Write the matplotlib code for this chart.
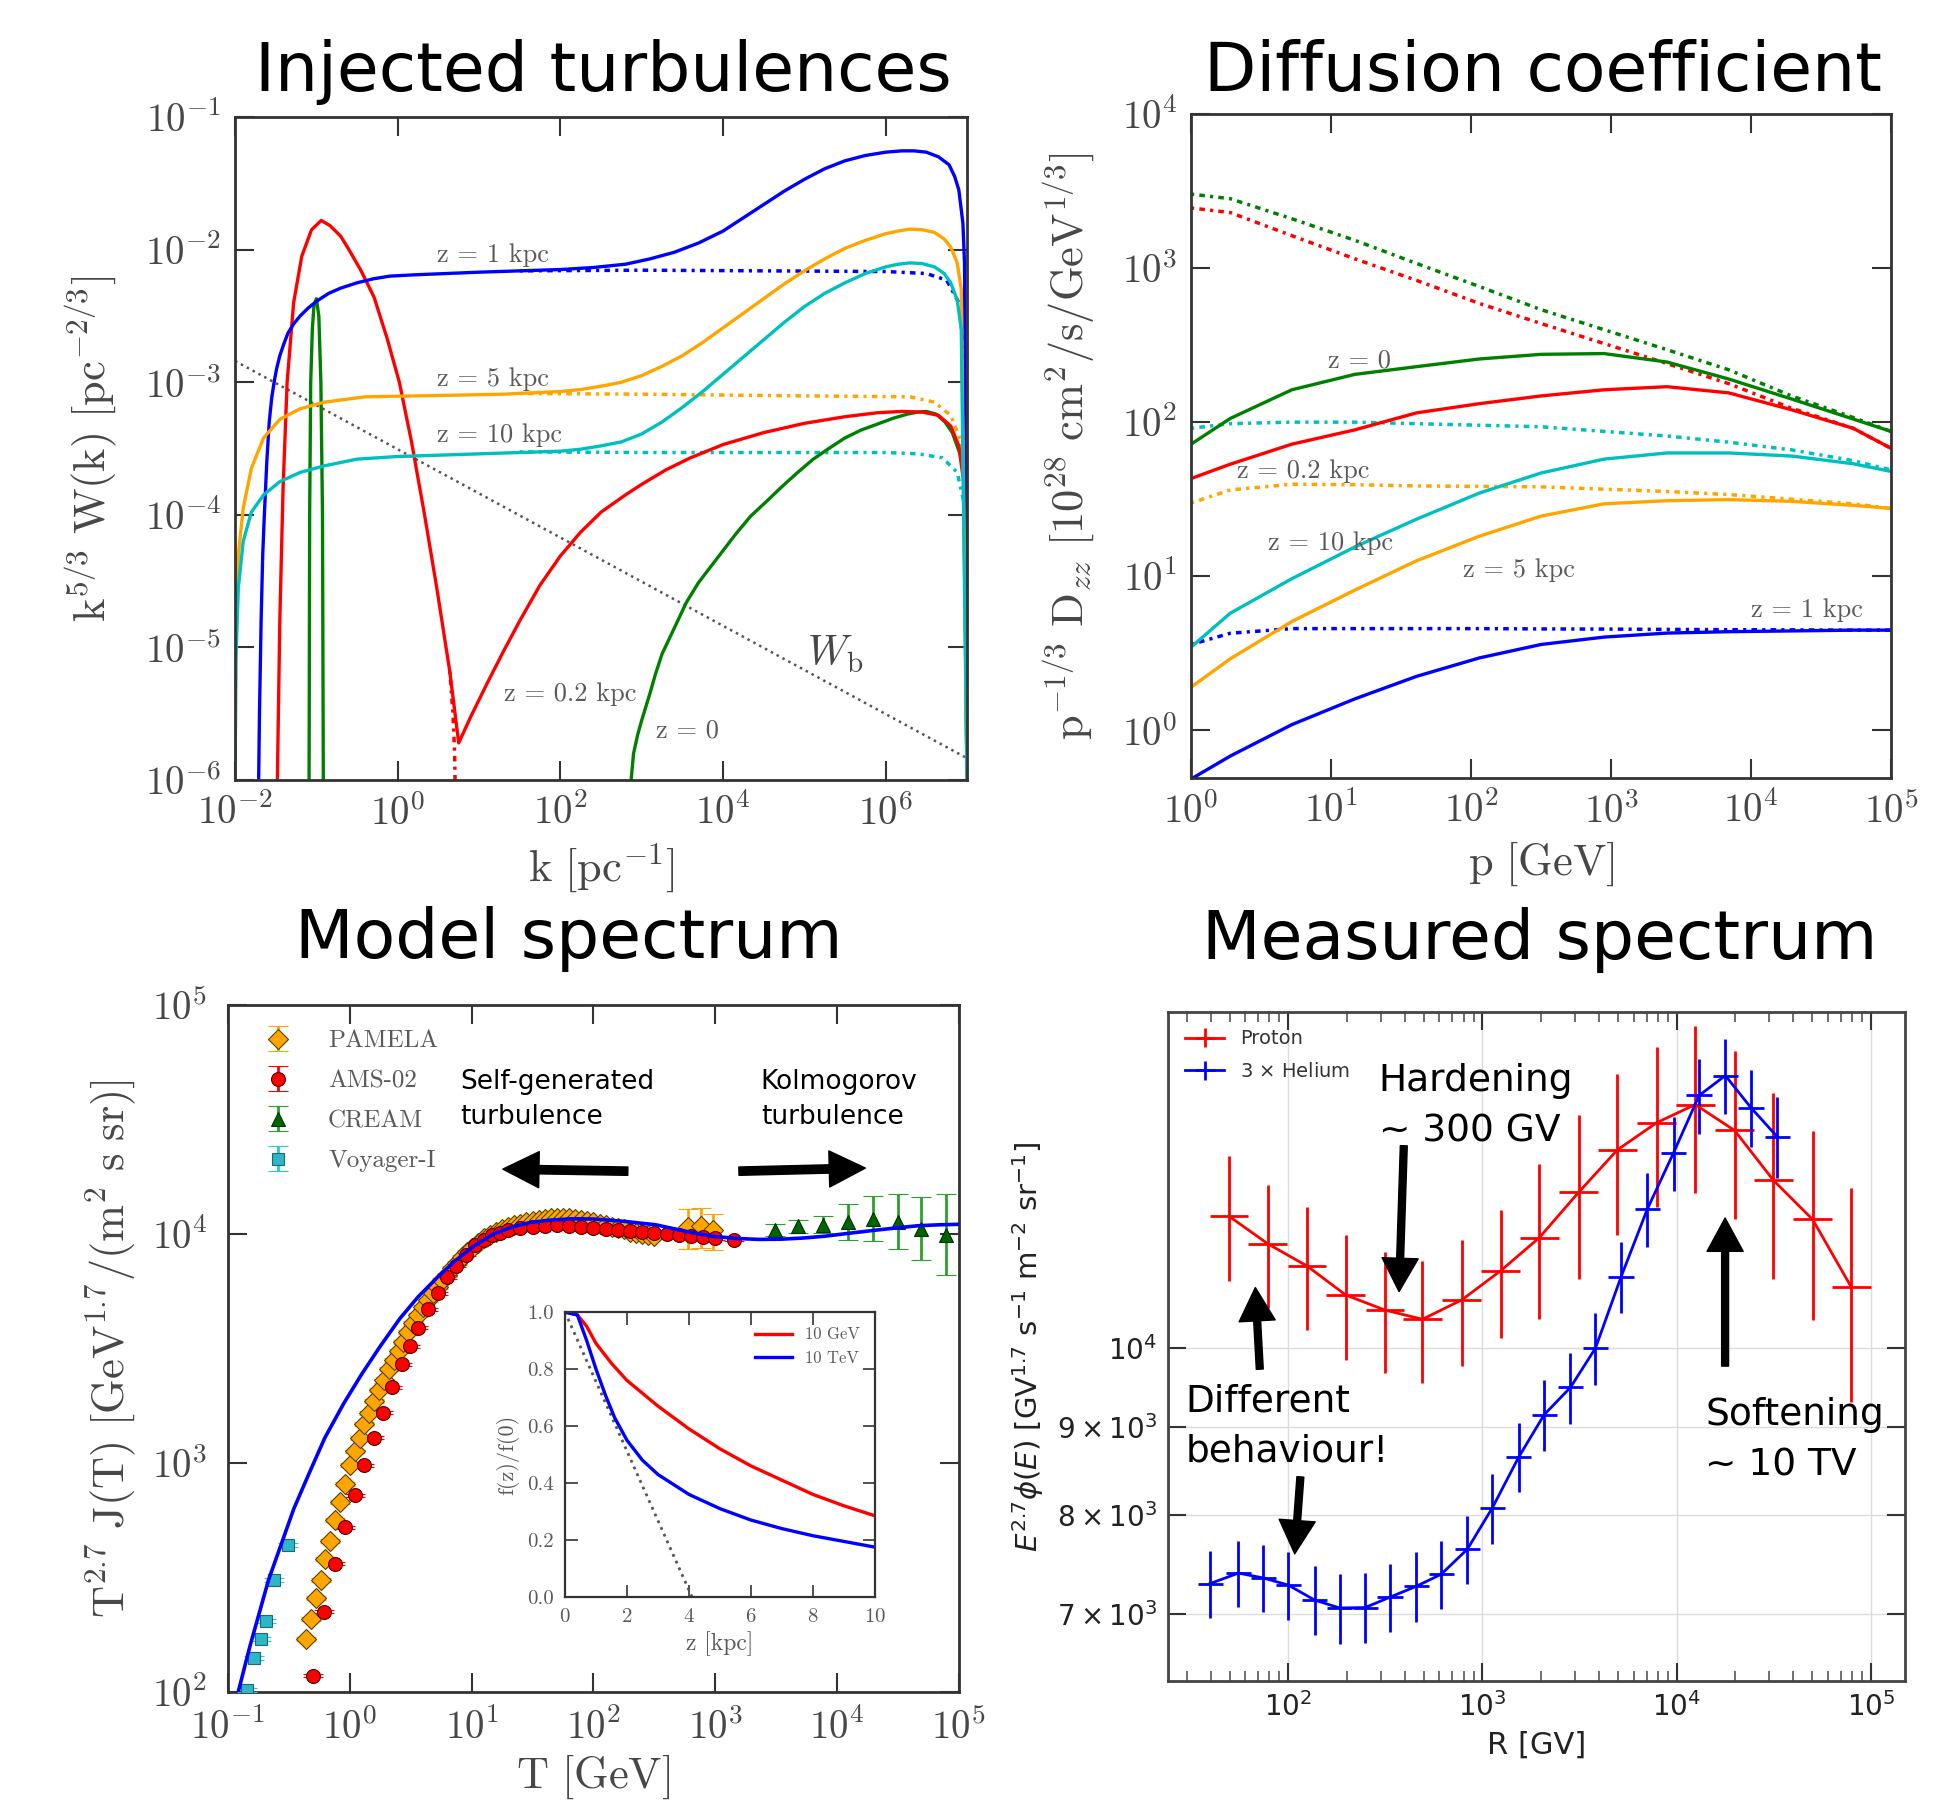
import numpy as np
import matplotlib
matplotlib.use('Agg')
import matplotlib.pyplot as plt
from matplotlib.ticker import (FixedLocator, FixedFormatter, NullLocator,
                               NullFormatter, LogLocator, LogFormatterSciNotation)

plt.rcParams['font.family'] = 'serif'
plt.rcParams['font.serif'] = ['cmr10', 'DejaVu Serif']
plt.rcParams['mathtext.fontset'] = 'cm'
plt.rcParams['axes.formatter.use_mathtext'] = True

# ---------------- panel 1: injected turbulences (log10 values)
inj_k_ticks = [1e-2, 1e0, 1e2, 1e4, 1e6]
inj_w_ticks = [1e-6, 1e-5, 1e-4, 1e-3, 1e-2, 1e-1]

inj_z1_logk = [-1.71, -1.7, -1.68, -1.66, -1.64, -1.61, -1.58, -1.55, -1.52, -1.49, -1.45, -1.4,
               -1.35, -1.28, -1.2, -1.1, -1.0, -0.85, -0.7, -0.5, -0.3, -0.1, 0.2, 1.0,
               2.0, 2.4, 2.8, 3.1, 3.4, 3.7, 4.0, 4.25, 4.5, 4.75, 5.0, 5.25, 5.5, 5.75,
               6.0, 6.2, 6.35, 6.5, 6.65, 6.78, 6.85, 6.9, 6.95, 6.97, 7.0]
inj_z1_logw = [-6.0, -5.5, -4.8, -4.3, -4.0, -3.6, -3.3, -3.12, -3.0, -2.9, -2.8, -2.71,
               -2.63, -2.56, -2.5, -2.44, -2.39, -2.33, -2.29, -2.25, -2.22, -2.2, -2.19, -2.17,
               -2.15, -2.135, -2.11, -2.07, -2.02, -1.95, -1.86, -1.76, -1.66, -1.56, -1.47, -1.39,
               -1.33, -1.29, -1.265, -1.255, -1.255, -1.265, -1.3, -1.36, -1.45, -1.55, -1.8, -2.1, -6.0]
inj_z1_flat_logk = [1.5, 3.0, 4.5, 6.0, 6.5, 6.75, 6.9, 6.97, 7.0]
inj_z1_flat_logw = [-2.16, -2.155, -2.16, -2.165, -2.18, -2.23, -2.4, -2.8, -4.0]

inj_z5_logk = [-2.0, -1.99, -1.96, -1.9, -1.8, -1.65, -1.45, -1.2, -0.9, -0.4, 0.5, 1.3, 2.0,
               2.25, 2.5, 2.75, 3.0, 3.25, 3.5, 3.75, 4.0, 4.25, 4.5, 4.75, 5.0, 5.25, 5.5,
               5.75, 6.0, 6.15, 6.3, 6.45, 6.6, 6.72, 6.8, 6.88, 6.93, 7.0]
inj_z5_logw = [-6.0, -4.9, -4.3, -3.95, -3.65, -3.42, -3.28, -3.2, -3.15, -3.11, -3.1, -3.09, -3.07,
               -3.055, -3.03, -3.0, -2.95, -2.88, -2.8, -2.7, -2.59, -2.48, -2.37, -2.26, -2.16, -2.07,
               -1.99, -1.93, -1.88, -1.86, -1.845, -1.85, -1.87, -1.92, -1.98, -2.1, -2.3, -6.0]
inj_z5_flat_logk = [1.5, 3.0, 4.5, 6.3, 6.6, 6.8, 6.93, 7.0]
inj_z5_flat_logw = [-3.085, -3.09, -3.1, -3.11, -3.15, -3.25, -3.45, -4.0]

inj_z10_logk = [-2.0, -1.99, -1.96, -1.9, -1.8, -1.65, -1.45, -1.2, -0.9, -0.5, 0.0, 1.0, 2.0,
                2.25, 2.5, 2.75, 3.0, 3.25, 3.5, 3.75, 4.0, 4.25, 4.5, 4.75, 5.0, 5.25, 5.5,
                5.75, 6.0, 6.15, 6.3, 6.45, 6.6, 6.72, 6.8, 6.88, 6.93, 7.0]
inj_z10_logw = [-6.0, -5.1, -4.55, -4.2, -3.98, -3.85, -3.75, -3.68, -3.63, -3.58, -3.56, -3.54, -3.52,
                -3.505, -3.48, -3.45, -3.39, -3.3, -3.19, -3.07, -2.94, -2.81, -2.68, -2.55, -2.43, -2.33,
                -2.25, -2.18, -2.13, -2.11, -2.1, -2.105, -2.13, -2.18, -2.25, -2.38, -2.6, -6.0]
inj_z10_flat_logk = [1.5, 3.0, 4.5, 6.0, 6.4, 6.7, 6.88, 6.96, 7.0]
inj_z10_flat_logw = [-3.525, -3.53, -3.53, -3.53, -3.54, -3.57, -3.68, -3.9, -4.5]

inj_z02_logk = [-1.48, -1.45, -1.41, -1.36, -1.28, -1.18, -1.06, -0.94, -0.83, -0.7,
                -0.6, -0.45, -0.29, -0.13, 0.02, 0.17, 0.33, 0.48, 0.64, 0.75,
                0.9, 1.1, 1.3, 1.5, 1.75, 2.0, 2.25, 2.5, 2.8, 3.0,
                3.3, 3.6, 4.0, 4.5, 5.0, 5.5, 5.9, 6.2, 6.45, 6.65,
                6.8, 6.9, 6.97, 7.0]
inj_z02_logw = [-6.0, -4.8, -3.8, -3.0, -2.4, -2.05, -1.85, -1.78, -1.82, -1.9,
                -2.0, -2.16, -2.36, -2.67, -3.0, -3.45, -4.0, -4.55, -5.18, -5.72,
                -5.52, -5.27, -5.03, -4.8, -4.53, -4.31, -4.13, -3.98, -3.85, -3.77,
                -3.66, -3.57, -3.47, -3.38, -3.31, -3.26, -3.23, -3.22, -3.225, -3.25,
                -3.33, -3.48, -3.8, -6.0]
inj_z02_tail_logk = [0.64, 0.68, 0.70, 0.705]
inj_z02_tail_logw = [-5.18, -5.5, -5.8, -6.0]

inj_z0_spike_logk = [-1.09, -1.083, -1.07, -1.05, -1.03, -1.0, -0.97, -0.945, -0.925, -0.915]
inj_z0_spike_logw = [-6.0, -4.0, -3.0, -2.6, -2.42, -2.37, -2.5, -3.0, -4.0, -6.0]
inj_z0_logk = [2.87, 2.9, 2.95, 3.0, 3.05, 3.1, 3.17, 3.25, 3.35, 3.45, 3.55, 3.7, 3.85, 3.95,
               4.15, 4.34, 4.55, 4.72, 4.9, 5.11, 5.3, 5.5, 5.7, 5.88, 6.1, 6.27, 6.4, 6.5,
               6.62, 6.73, 6.82, 6.92, 6.96, 7.0]
inj_z0_logw = [-6.0, -5.8, -5.66, -5.55, -5.45, -5.35, -5.2, -5.05, -4.92, -4.79, -4.66, -4.51,
               -4.39, -4.31, -4.15, -4.01, -3.89, -3.79, -3.69, -3.58, -3.5, -3.42, -3.36, -3.32,
               -3.27, -3.24, -3.225, -3.22, -3.24, -3.3, -3.38, -3.55, -3.7, -6.0]

inj_wb_logk = [-2.0, 7.0]
inj_wb_logw = [-2.84, -5.835]

# ---------------- panel 2: diffusion coefficient (log10 values)
dif_p_ticks = [1e0, 1e1, 1e2, 1e3, 1e4, 1e5]
dif_d_ticks = [1e0, 1e1, 1e2, 1e3, 1e4]
dif_logp = [0.0, 0.28, 0.72, 1.17, 1.61, 2.06, 2.5, 2.95, 3.4, 3.84, 4.29, 4.73, 5.0]

dif_z0_logd = [1.857, 2.024, 2.21, 2.31, 2.36, 2.41, 2.44, 2.445, 2.39, 2.28, 2.15, 2.02, 1.94]
dif_z0_flat_logd = [3.48, 3.45, 3.32, 3.18, 3.03, 2.88, 2.73, 2.60, 2.47, 2.34, 2.17, 2.03, 1.94]
dif_z02_logd = [1.634, 1.727, 1.857, 1.95, 2.06, 2.12, 2.17, 2.21, 2.23, 2.19, 2.08, 1.96, 1.83]
dif_z02_flat_logd = [3.39, 3.36, 3.21, 3.06, 2.92, 2.77, 2.64, 2.51, 2.38, 2.25, 2.09, 1.96, 1.83]
dif_z10_logd = [0.54, 0.76, 0.984, 1.19, 1.37, 1.54, 1.67, 1.76, 1.80, 1.80, 1.78, 1.73, 1.68]
dif_z10_flat_logd = [1.96, 1.99, 2.0, 2.0, 1.99, 1.98, 1.97, 1.94, 1.91, 1.87, 1.82, 1.75, 1.69]
dif_z5_logd = [0.28, 0.464, 0.706, 0.91, 1.10, 1.26, 1.39, 1.47, 1.49, 1.497, 1.486, 1.46, 1.44]
dif_z5_flat_logd = [1.475, 1.56, 1.597, 1.594, 1.586, 1.583, 1.58, 1.565, 1.55, 1.53, 1.50, 1.47, 1.44]
dif_z1_logd = [-0.316, -0.167, 0.037, 0.204, 0.35, 0.47, 0.557, 0.605, 0.631, 0.64, 0.645, 0.65, 0.65]
dif_z1_flat_logd = [0.557, 0.63, 0.66, 0.66, 0.66, 0.66, 0.658, 0.657, 0.655, 0.653, 0.652, 0.65, 0.65]

# ---------------- panel 3: model spectrum
spec_t_ticks = [1e-1, 1e0, 1e1, 1e2, 1e3, 1e4, 1e5]
spec_j_ticks = [1e2, 1e3, 1e4, 1e5]
model_logt = [-0.95, -0.82, -0.667, -0.56, -0.46, -0.33, -0.205, -0.05, 0.10, 0.25, 0.41, 0.56,
              0.718, 0.87, 1.026, 1.18, 1.33, 1.48, 1.64, 1.82, 2.0, 2.25, 2.51, 2.77, 2.97,
              3.18, 3.36, 3.54, 3.72, 3.90, 4.1, 4.31, 4.5, 4.67, 4.85, 5.0]
model_logj = [1.93, 2.20, 2.49, 2.65, 2.80, 2.96, 3.11, 3.26, 3.39, 3.51, 3.63, 3.725,
              3.81, 3.885, 3.95, 4.0, 4.03, 4.05, 4.06, 4.066, 4.065, 4.055, 4.04, 4.01, 3.99,
              3.98, 3.976, 3.977, 3.982, 3.99, 4.003, 4.016, 4.027, 4.036, 4.04, 4.042]

pamela_logt = [-0.36, -0.32, -0.28, -0.24, -0.20, -0.16, -0.12, -0.08, -0.04, 0.00,
               0.04, 0.08, 0.12, 0.16, 0.20, 0.24, 0.28, 0.32, 0.36, 0.40,
               0.44, 0.48, 0.52, 0.56, 0.60, 0.64, 0.68, 0.72, 0.76, 0.80,
               0.84, 0.88, 0.92, 0.96, 1.00, 1.05, 1.10, 1.15, 1.20, 1.25,
               1.30, 1.35, 1.40, 1.45, 1.50, 1.55, 1.60, 1.65, 1.70, 1.75,
               1.80, 1.85, 1.90, 1.95, 2.00, 2.05, 2.10, 2.15, 2.20, 2.25,
               2.30, 2.35, 2.40, 2.45, 2.50, 2.78, 2.88, 2.98]
pamela_logj = [2.23, 2.32, 2.41, 2.49, 2.58, 2.66, 2.75, 2.83, 2.91, 2.99,
               3.05, 3.11, 3.17, 3.22, 3.27, 3.32, 3.36, 3.41, 3.45, 3.49,
               3.53, 3.57, 3.61, 3.645, 3.68, 3.71, 3.74, 3.77, 3.80, 3.82,
               3.85, 3.875, 3.90, 3.92, 3.94, 3.96, 3.98, 3.995, 4.01, 4.02,
               4.03, 4.04, 4.045, 4.05, 4.055, 4.06, 4.065, 4.07, 4.07, 4.07,
               4.07, 4.065, 4.06, 4.055, 4.05, 4.045, 4.04, 4.03, 4.025, 4.02,
               4.01, 4.005, 4.0, 3.995, 3.99, 4.03, 4.035, 4.015]
pamela_rel_err = [0.02] * 65 + [0.2, 0.2, 0.18]

ams_logt = [-0.30, -0.21, -0.12, -0.04, 0.04, 0.12, 0.20, 0.27, 0.35, 0.43,
            0.49, 0.56, 0.64, 0.72, 0.80, 0.87, 0.95, 1.03, 1.10, 1.17,
            1.23, 1.30, 1.40, 1.50, 1.60, 1.70, 1.80, 1.90, 2.00, 2.10,
            2.20, 2.30, 2.40, 2.50, 2.60, 2.70, 2.80, 2.90, 3.00, 3.15]
ams_logj = [2.07, 2.35, 2.56, 2.72, 2.86, 2.99, 3.11, 3.22, 3.33, 3.43,
            3.51, 3.59, 3.67, 3.74, 3.81, 3.86, 3.91, 3.95, 3.975, 3.995,
            4.005, 4.015, 4.025, 4.032, 4.036, 4.038, 4.036, 4.032, 4.027, 4.022,
            4.017, 4.012, 4.007, 4.003, 4.0, 3.996, 3.99, 3.985, 3.98, 3.974]

cream_t = [3070, 4790, 7710, 12300, 19800, 31600, 49000, 78900]
cream_j = [10370, 10810, 10960, 11320, 11670, 11320, 10470, 9890]
cream_err_lo = [600, 700, 900, 1900, 2400, 2700, 2800, 3300]
cream_err_hi = [650, 750, 1000, 2200, 3000, 3600, 4000, 5000]

voyager_logt = [-0.846, -0.785, -0.733, -0.692, -0.62, -0.51]
voyager_logj = [2.01, 2.147, 2.23, 2.31, 2.49, 2.64]

# inset: f(z)/f(0)
inset_z_ticks = [0, 2, 4, 6, 8, 10]
inset_f_ticks = [0.0, 0.2, 0.4, 0.6, 0.8, 1.0]
gev_z = [0.0, 0.4, 0.7, 1.0, 1.5, 2.0, 3.0, 4.0, 5.0, 6.0, 7.0, 8.0, 9.0, 10.0]
gev_f = [1.0, 0.99, 0.95, 0.89, 0.82, 0.76, 0.67, 0.59, 0.52, 0.46, 0.41, 0.36, 0.32, 0.285]
tev_z = [0.0, 0.4, 0.7, 1.0, 1.3, 1.6, 2.0, 2.5, 3.0, 4.0, 5.0, 6.0, 7.0, 8.0, 9.0, 10.0]
tev_f = [1.0, 0.99, 0.90, 0.80, 0.71, 0.63, 0.55, 0.48, 0.43, 0.36, 0.31, 0.27, 0.24, 0.215, 0.195, 0.175]
free_z = [0.0, 4.1]
free_f = [1.0, 0.0]

# ---------------- panel 4: measured spectrum
meas_r_ticks = [1e2, 1e3, 1e4, 1e5]
meas_phi_ticks = [7000, 8000, 9000, 10000]
meas_phi_labels = [r'$7\times10^{3}$', r'$8\times10^{3}$', r'$9\times10^{3}$', r'$10^{4}$']

proton_r = [49.5, 78.3, 124.9, 197.6, 314.6, 491, 783, 1239, 1963, 3127, 4955, 7890, 12480,
            19900, 31500, 50200, 79430]
proton_phi = [11937, 11505, 11166, 10740, 10525, 10396, 10670, 11093, 11599, 12325, 13048, 13532,
              13866, 13392, 12528, 11885, 10853]
proton_err = [1000, 950, 920, 900, 850, 850, 900, 950, 1200, 1350, 1400, 1450, 1550, 1500, 1550,
              1500, 1550]
proton_bin_dex = 0.1

helium_r = [39.6, 55.4, 74.3, 100, 136.5, 183.6, 248.9, 334, 456, 613, 837, 1125, 1537, 2081,
            2838, 3819, 5176, 7063, 9640, 13060, 17830, 24150, 32960]
helium_phi = [7293, 7396, 7348, 7278, 7134, 7058, 7062, 7161, 7266, 7384, 7638, 8073, 8641, 9148,
              9487, 10000, 11004, 12050, 12995, 14036, 14416, 13808, 13282]
helium_err = [330, 330, 330, 330, 330, 330, 330, 330, 340, 340, 350, 380, 400, 440, 450, 480,
              520, 600, 650, 700, 730, 710, 720]
helium_bin_dex = 0.065

GREY = '#474747'
LABEL_GREY = '#5a5a5a'
DOTS = (0, (0.9, 1.5, 1.6, 1.5))


def pw(a):
    return 10.0 ** np.asarray(a)


def serif_axes(ax, xticks, yticks, labelsize=28, length=14, xpad=10, ypad=10):
    for s in ax.spines.values():
        s.set_linewidth(2)
        s.set_color('#333333')
    ax.xaxis.set_major_locator(FixedLocator(xticks))
    ax.yaxis.set_major_locator(FixedLocator(yticks))
    ax.xaxis.set_minor_locator(NullLocator())
    ax.yaxis.set_minor_locator(NullLocator())
    ax.tick_params(which='both', direction='in', top=True, right=True, length=length,
                   width=1.5, color='#333333', labelsize=labelsize, labelcolor=GREY)
    ax.tick_params(axis='x', pad=xpad)
    ax.tick_params(axis='y', pad=ypad)


def panel_injected(ax):
    ax.set_xscale('log')
    ax.set_yscale('log')
    ax.plot(pw(inj_wb_logk), pw(inj_wb_logw), ':', color='#555555', lw=1.8)
    ax.plot(pw(inj_z1_flat_logk), pw(inj_z1_flat_logw), color='b', lw=2.5, ls=DOTS)
    ax.plot(pw(inj_z5_flat_logk), pw(inj_z5_flat_logw), color='orange', lw=2.5, ls=DOTS)
    ax.plot(pw(inj_z10_flat_logk), pw(inj_z10_flat_logw), color='c', lw=2.5, ls=DOTS)
    ax.plot(pw(inj_z02_tail_logk), pw(inj_z02_tail_logw), color='r', lw=2.5, ls=DOTS)
    ax.plot(pw(inj_z0_spike_logk), pw(inj_z0_spike_logw), color='g', lw=2.4)
    ax.plot(pw(inj_z0_logk), pw(inj_z0_logw), color='g', lw=2.4)
    ax.plot(pw(inj_z02_logk), pw(inj_z02_logw), color='r', lw=2.4)
    ax.plot(pw(inj_z1_logk), pw(inj_z1_logw), color='b', lw=2.4)
    ax.plot(pw(inj_z5_logk), pw(inj_z5_logw), color='orange', lw=2.4)
    ax.plot(pw(inj_z10_logk), pw(inj_z10_logw), color='c', lw=2.4)
    ax.set_xlim(1e-2, 1e7)
    ax.set_ylim(1e-6, 1e-1)
    serif_axes(ax, inj_k_ticks, inj_w_ticks)
    kw = dict(fontsize=19, color=LABEL_GREY, va='center', ha='left')
    ax.text(10 ** 0.48, 10 ** -2.04, 'z = 1 kpc', **kw)
    ax.text(10 ** 0.48, 10 ** -2.98, 'z = 5 kpc', **kw)
    ax.text(10 ** 0.48, 10 ** -3.40, 'z = 10 kpc', **kw)
    ax.text(10 ** 1.31, 10 ** -5.35, 'z = 0.2 kpc', **kw)
    ax.text(10 ** 3.17, 10 ** -5.63, 'z = 0', **kw)
    ax.text(10 ** 5.03, 10 ** -5.05, r'$W_\mathrm{b}$', fontsize=30, color=GREY, va='center')
    ax.set_xlabel(r'$\mathrm{k\ [pc^{-1}]}$', fontsize=32, color=GREY, labelpad=6)
    ax.set_ylabel(r'$\mathrm{k^{5/3}\ W(k)\ [pc^{-2/3}]}$', fontsize=32, color=GREY, labelpad=18)


def panel_diffusion(ax):
    ax.set_xscale('log')
    ax.set_yscale('log')
    p = pw(dif_logp)
    ax.plot(p, pw(dif_z0_flat_logd), color='g', lw=2.5, ls=DOTS)
    ax.plot(p, pw(dif_z02_flat_logd), color='r', lw=2.5, ls=DOTS)
    ax.plot(p, pw(dif_z10_flat_logd), color='c', lw=2.5, ls=DOTS)
    ax.plot(p, pw(dif_z5_flat_logd), color='orange', lw=2.5, ls=DOTS)
    ax.plot(p, pw(dif_z1_flat_logd), color='b', lw=2.5, ls=DOTS)
    ax.plot(p, pw(dif_z0_logd), color='g', lw=2.4)
    ax.plot(p, pw(dif_z02_logd), color='r', lw=2.4)
    ax.plot(p, pw(dif_z10_logd), color='c', lw=2.4)
    ax.plot(p, pw(dif_z5_logd), color='orange', lw=2.4)
    ax.plot(p, pw(dif_z1_logd), color='b', lw=2.4)
    ax.set_xlim(1e0, 1e5)
    ax.set_ylim(0.49, 1e4)
    serif_axes(ax, dif_p_ticks, dif_d_ticks)
    kw = dict(fontsize=19, color=LABEL_GREY, va='center', ha='left')
    ax.text(10 ** 0.98, 10 ** 2.40, 'z = 0', **kw)
    ax.text(10 ** 0.33, 10 ** 1.683, 'z = 0.2 kpc', **kw)
    ax.text(10 ** 0.55, 10 ** 1.214, 'z = 10 kpc', **kw)
    ax.text(10 ** 1.94, 10 ** 1.04, 'z = 5 kpc', **kw)
    ax.text(10 ** 4.0, 10 ** 0.78, 'z = 1 kpc', **kw)
    ax.set_xlabel(r'$\mathrm{p\ [GeV]}$', fontsize=32, color=GREY, labelpad=6)
    ax.set_ylabel(r'$\mathrm{p^{-1/3}\ D}_{zz}\ \mathrm{[10^{28}\ cm^2/s/GeV^{1/3}]}$',
                  fontsize=32, color=GREY, labelpad=18)


def panel_model(ax):
    ax.set_xscale('log')
    ax.set_yscale('log')
    pj = pw(pamela_logj)
    ax.errorbar(pw(pamela_logt), pj, yerr=pj * np.array(pamela_rel_err), fmt='D', ms=10,
                color='orange', mfc='orange', mec='#5a4000', mew=0.8, ecolor='orange',
                elinewidth=2, capsize=7, capthick=2, label='PAMELA', zorder=3)
    aj = pw(ams_logj)
    ax.errorbar(pw(ams_logt), aj, yerr=aj * 0.015, fmt='o', ms=10, color='r', mfc='r',
                mec='#550000', mew=0.8, ecolor='r', elinewidth=2, capsize=7, capthick=2,
                label='AMS-02', zorder=3)
    ax.errorbar(cream_t, cream_j, yerr=[cream_err_lo, cream_err_hi], fmt='^', ms=10,
                color='#006400', mfc='#006400', mec='#003000', mew=0.8, ecolor='#2ca02c',
                elinewidth=2, capsize=7, capthick=2, label='CREAM', zorder=3)
    vj = pw(voyager_logj)
    ax.errorbar(pw(voyager_logt), vj, yerr=vj * 0.02, fmt='s', ms=9, color='#2fb6c6',
                mfc='#2fb6c6', mec='#1a6a74', mew=0.8, ecolor='#2ac8d8', elinewidth=2,
                capsize=7, capthick=2, label='Voyager-I', zorder=3)
    ax.plot(pw(model_logt), pw(model_logj), color='b', lw=2.6, zorder=4)
    ax.set_xlim(1e-1, 1e5)
    ax.set_ylim(1e2, 1e5)
    serif_axes(ax, spec_t_ticks, spec_j_ticks, xpad=12, ypad=15)
    ax.set_xlabel(r'$\mathrm{T\ [GeV]}$', fontsize=32, color=GREY, labelpad=4)
    ax.set_ylabel(r'$\mathrm{T^{2.7}\ J(T)\ [GeV^{1.7}/(m^2\ s\ sr)]}$', fontsize=32,
                  color=GREY, labelpad=10)
    leg = ax.legend(loc='upper left', frameon=False, numpoints=1, fontsize=18,
                    labelspacing=0.7, handletextpad=1.0, borderaxespad=0.6)
    for t in leg.get_texts():
        t.set_color(LABEL_GREY)
    kw = dict(fontsize=19, family='DejaVu Sans', color='black', va='center', ha='left',
              transform=ax.transAxes, linespacing=1.45)
    ax.text(0.318, 0.862, 'Self-generated\nturbulence', **kw)
    ax.text(0.729, 0.862, 'Kolmogorov\nturbulence', **kw)
    arrow = dict(facecolor='black', edgecolor='black', width=6, headwidth=26, headlength=26, shrink=0)
    ax.annotate('', xy=(0.376, 0.761), xytext=(0.547, 0.758), xycoords='axes fraction',
                textcoords='axes fraction', arrowprops=arrow)
    ax.annotate('', xy=(0.872, 0.7625), xytext=(0.699, 0.758), xycoords='axes fraction',
                textcoords='axes fraction', arrowprops=arrow)


def panel_inset(ax):
    ax.plot(free_z, free_f, ':', color='#555555', lw=2)
    ax.plot(gev_z, gev_f, color='r', lw=2.4, label='10 GeV')
    ax.plot(tev_z, tev_f, color='b', lw=2.4, label='10 TeV')
    ax.set_xlim(0, 10)
    ax.set_ylim(0, 1)
    for s in ax.spines.values():
        s.set_linewidth(1.6)
        s.set_color('#333333')
    ax.xaxis.set_major_locator(FixedLocator(inset_z_ticks))
    ax.yaxis.set_major_locator(FixedLocator(inset_f_ticks))
    ax.yaxis.set_major_formatter(FixedFormatter(['%.1f' % v for v in inset_f_ticks]))
    ax.tick_params(direction='in', top=True, right=True, length=9, width=1.2,
                   color='#333333', labelsize=15, labelcolor=LABEL_GREY, pad=8)
    ax.set_xlabel('z [kpc]', fontsize=17, color=LABEL_GREY, labelpad=4)
    ax.set_ylabel('f(z)/f(0)', fontsize=16, color=LABEL_GREY, labelpad=6)
    leg = ax.legend(loc='upper right', frameon=False, fontsize=12, handlelength=2.2)
    for t in leg.get_texts():
        t.set_color(LABEL_GREY)


def panel_measured(fig, rect):
    with plt.rc_context({'font.family': 'DejaVu Sans', 'mathtext.fontset': 'dejavusans'}):
        ax = fig.add_axes(rect)
        ax.set_xscale('log')
        ax.set_yscale('log')
        pr = np.array(proton_r)
        hr = np.array(helium_r)
        ax.errorbar(pr, proton_phi, yerr=proton_err,
                    xerr=[pr * (1 - 10 ** -proton_bin_dex), pr * (10 ** proton_bin_dex - 1)],
                    color='r', lw=2, elinewidth=2, capsize=0, label='Proton')
        ax.errorbar(hr, helium_phi, yerr=helium_err,
                    xerr=[hr * (1 - 10 ** -helium_bin_dex), hr * (10 ** helium_bin_dex - 1)],
                    color='b', lw=2, elinewidth=2, capsize=0, label=r'3 $\times$ Helium')
        ax.set_xlim(24, 1.5e5)
        ax.set_ylim(6400, 15700)
        ax.xaxis.set_major_locator(FixedLocator(meas_r_ticks))
        ax.xaxis.set_major_formatter(LogFormatterSciNotation())
        ax.xaxis.set_minor_locator(LogLocator(base=10, subs=np.arange(2, 10), numticks=20))
        ax.xaxis.set_minor_formatter(NullFormatter())
        ax.yaxis.set_major_locator(FixedLocator(meas_phi_ticks))
        ax.yaxis.set_major_formatter(FixedFormatter(meas_phi_labels))
        ax.yaxis.set_minor_locator(NullLocator())
        ax.xaxis.get_major_ticks()
        ax.xaxis.get_minor_ticks()
        ax.yaxis.get_major_ticks()
        for s in ax.spines.values():
            s.set_linewidth(2)
            s.set_color('#444444')
        ax.tick_params(which='major', direction='in', top=True, right=True, length=13,
                       width=1.5, color='#333333', labelsize=20, labelcolor='#222222', pad=8)
        ax.tick_params(which='minor', direction='in', top=True, right=True, length=7,
                       width=1.2, color='#555555')
        ax.grid(True, which='major', color='#dcdcdc', lw=1)
        ax.set_axisbelow(True)
        ax.set_xlabel('R [GV]', fontsize=22, color='#222222', labelpad=6)
        ax.set_ylabel(r'$E^{2.7}\phi(E)$ [GV$^{1.7}$ s$^{-1}$ m$^{-2}$ sr$^{-1}$]',
                      fontsize=21, color='#222222', labelpad=8)
        leg = ax.legend(loc='upper left', frameon=False, fontsize=14, numpoints=1,
                        handlelength=2.0, labelspacing=0.7, borderaxespad=0.5)
        for t in leg.get_texts():
            t.set_color('#333333')
        kw = dict(fontsize=27, color='black', va='center', ha='left', transform=ax.transAxes,
                  linespacing=1.5)
        ax.text(0.286, 0.859, 'Hardening\n~ 300 GV', **kw)
        ax.text(0.024, 0.38, 'Different\nbehaviour!', **kw)
        ax.text(0.729, 0.36, 'Softening\n~ 10 TV', **kw)
        arrow = dict(facecolor='black', edgecolor='black', width=5, headwidth=26,
                     headlength=24, shrink=0)
        for head, tail in [((0.3136, 0.582), (0.32, 0.80)),
                           ((0.1186, 0.588), (0.1246, 0.466)),
                           ((0.172, 0.19), (0.1797, 0.305)),
                           ((0.756, 0.692), (0.756, 0.4706))]:
            ax.annotate('', xy=head, xytext=tail, xycoords='axes fraction',
                        textcoords='axes fraction', arrowprops=arrow)
    return ax


def make_figure():
    fig = plt.figure(figsize=(19.59, 18.09), dpi=100)
    ax1 = fig.add_axes([0.1200, 0.5688, 0.3736, 0.3665])
    ax2 = fig.add_axes([0.6080, 0.5699, 0.3573, 0.3671])
    ax3 = fig.add_axes([0.1164, 0.0647, 0.3731, 0.3798])
    ax_in = fig.add_axes([0.2884, 0.1172, 0.1582, 0.1575])
    panel_injected(ax1)
    panel_diffusion(ax2)
    panel_model(ax3)
    panel_inset(ax_in)
    panel_measured(fig, [0.5962, 0.0708, 0.3762, 0.3698])

    tkw = dict(fontsize=49, family='DejaVu Sans', color='black', ha='center', va='baseline')
    fig.text(603 / 1959, 1 - 91 / 1809, 'Injected turbulences', **tkw)
    fig.text(1543 / 1959, 1 - 91 / 1809, 'Diffusion coefficient', **tkw)
    fig.text(569 / 1959, 1 - 958 / 1809, 'Model spectrum', **tkw)
    fig.text(1540 / 1959, 1 - 959 / 1809, 'Measured spectrum', **tkw)
    fig.savefig('out.png', dpi=100)


if __name__ == '__main__':
    make_figure()
